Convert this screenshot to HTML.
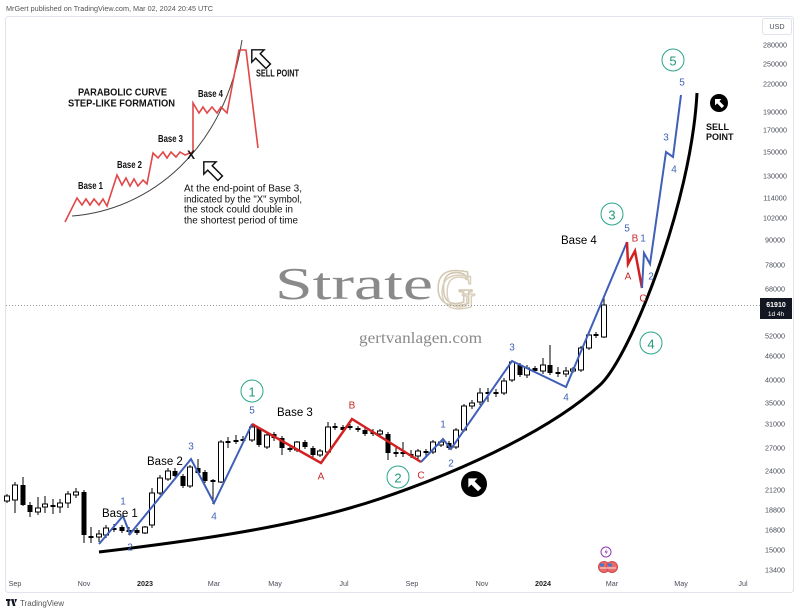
<!DOCTYPE html>
<html><head><meta charset="utf-8"><style>
html,body{margin:0;padding:0;background:#fff;}
svg{display:block;}
text{font-family:"Liberation Sans",sans-serif;}
.sf{font-family:"Liberation Serif",serif;}
.px{font-size:7.2px;fill:#4a4e5a;text-anchor:middle;}
.tx{font-size:7.2px;fill:#4a4e5a;text-anchor:middle;}
.bl{font-size:10px;fill:#3f63b5;text-anchor:middle;dominant-baseline:central;}
.rd{font-size:10px;fill:#c62828;text-anchor:middle;dominant-baseline:central;}
.gn{font-size:13px;fill:#1e9a7a;text-anchor:middle;dominant-baseline:central;}
.bs{font-size:11.5px;fill:#000;}
.h{fill:#fff;stroke:#000;stroke-width:1;}
.b{fill:#000;}
.ib{font-size:10px;font-weight:bold;fill:#111;}
.ip{font-size:10px;fill:#111;}
</style></head><body>
<svg width="800" height="614" viewBox="0 0 800 614" xmlns="http://www.w3.org/2000/svg">
<rect width="800" height="614" fill="#fff"/>
<text x="6" y="11" font-size="7.6" fill="#555" textLength="207" lengthAdjust="spacingAndGlyphs">MrGert published on TradingView.com, Mar 02, 2024 20:45 UTC</text>
<rect x="5.5" y="16.5" width="788" height="576" rx="3" fill="#fff" stroke="#e0e3eb"/>

<!-- Inset -->
<path d="M72,216 C150,210 225,150 242,40" fill="none" stroke="#444" stroke-width="1"/>
<path d="M65,222 L77,198 L82,205 L86,199 L90,205 L94,199 L99,205 L103,199 L107,206 L117,175 L122,185 L126,178 L130,186 L134,179 L138,186 L143,180 L147,184 L153,153 L158,158 L163,152 L167,158 L171,152 L176,157 L180,152 L185,155 L190,153 L193,152 L193,103 L199,113 L203,107 L207,113 L212,107 L217,113 L221,107 L227,113 L239,50 L246,50 L258,148" fill="none" stroke="#e04848" stroke-width="1.6" stroke-linejoin="miter"/>
<text x="78" y="95.5" class="ib" textLength="89" lengthAdjust="spacingAndGlyphs">PARABOLIC CURVE</text>
<text x="68" y="106.5" class="ib" textLength="107" lengthAdjust="spacingAndGlyphs">STEP-LIKE FORMATION</text>
<text x="78" y="189" class="ib" textLength="25" lengthAdjust="spacingAndGlyphs">Base 1</text>
<text x="117" y="168" class="ib" textLength="25" lengthAdjust="spacingAndGlyphs">Base 2</text>
<text x="158" y="142" class="ib" textLength="25" lengthAdjust="spacingAndGlyphs">Base 3</text>
<text x="198" y="97" class="ib" textLength="25" lengthAdjust="spacingAndGlyphs">Base 4</text>
<text x="191" y="159" font-size="12" font-weight="bold" fill="#111" text-anchor="middle">X</text>
<text x="256" y="76.5" class="ib" textLength="43" lengthAdjust="spacingAndGlyphs">SELL POINT</text>
<text x="184" y="191.5" class="ip" textLength="118" lengthAdjust="spacingAndGlyphs">At the end-point of Base 3,</text>
<text x="184" y="202.5" class="ip" textLength="118" lengthAdjust="spacingAndGlyphs">indicated by the "X" symbol,</text>
<text x="184" y="212.5" class="ip" textLength="109" lengthAdjust="spacingAndGlyphs">the stock could double in</text>
<text x="184" y="223.5" class="ip" textLength="114" lengthAdjust="spacingAndGlyphs">the shortest period of time</text>
<g transform="translate(260,58) rotate(-45) scale(1.45)"><polygon points="0,-8 6,-2 2.2,-2 2.2,8 -2.2,8 -2.2,-2 -6,-2" fill="#fff" stroke="#111" stroke-width="1"/></g>
<g transform="translate(212,170) rotate(-45) scale(1.45)"><polygon points="0,-8 6,-2 2.2,-2 2.2,8 -2.2,8 -2.2,-2 -6,-2" fill="#fff" stroke="#111" stroke-width="1"/></g>

<!-- Watermark -->
<text x="275" y="299" class="sf" font-size="46" fill="#8a8a8a" textLength="158" lengthAdjust="spacingAndGlyphs">Strate</text>
<text x="436" y="305" class="sf" font-size="52" fill="none" stroke="#d3c8b2" stroke-width="1.6">G</text>
<text x="440" y="308" class="sf" font-size="50" fill="none" stroke="#d8ceb9" stroke-width="1.4">G</text>
<text x="359" y="343" class="sf" font-size="16" fill="#8a8a8a" textLength="123" lengthAdjust="spacingAndGlyphs">gertvanlagen.com</text>

<!-- last price dotted line -->
<line x1="6" y1="305.5" x2="760" y2="305.5" stroke="#9598a1" stroke-width="1" stroke-dasharray="1,2"/>

<!-- Candles -->
<path d="M7 494V503M15 482V513M23 477V506M30 502V517M38 497V515M45 496V513M53 499V514M60 499V513M68 491V508M76 488V498M84 490V543M91 527V543M99 530V542M106 525V538M114 524V532M122 525V533M129 527V535M137 528V535M145 526V534M152 488V528M160 475V495M168 468V481M175 468V477M183 474V488M190 465V488M198 459V474M205 470V483M213 479V504M221 440V483M228 437V448M236 435V444M243 436V443M252 425V442M259 427V447M267 433V449M274 432V441M282 436V455M290 445V452M297 441V452M305 440V449M313 446V457M320 449V457M328 422V453M335 423V430M343 425V432M350 424V430M358 426V432M365 428V436M373 429V436M380 429V436M388 432V460M396 447V457M403 442V457M411 450V458M418 449V459M426 449V456M433 440V454M441 440V447M449 441V450M456 428V449M464 404V432M472 400V409M480 388V405M488 388V402M496 389V397M504 378V395M512 360V382M520 363V377M527 365V378M535 366V373M543 358V374M550 345V375M558 367V377M566 367V377M573 367V373M581 346V372M589 332V350M596 332V338M604 298V338" stroke="#000" stroke-width="1" fill="none"/>
<g class="h">
<rect x="4.5" y="496" width="5" height="5"/><rect x="12.5" y="485" width="5" height="15"/><rect x="35.5" y="508" width="5" height="4"/><rect x="42.5" y="504" width="5" height="3"/><rect x="57.5" y="503" width="5" height="4"/><rect x="65.5" y="494" width="5" height="9"/><rect x="73.5" y="492" width="5" height="3"/><rect x="96.5" y="534" width="5" height="3"/><rect x="103.5" y="528" width="5" height="7"/><rect x="142.5" y="527" width="5" height="6"/><rect x="149.5" y="493" width="5" height="32"/><rect x="157.5" y="478" width="5" height="15"/><rect x="165.5" y="471" width="5" height="8"/><rect x="187.5" y="467" width="5" height="19"/><rect x="218.5" y="442" width="5" height="40"/><rect x="249.5" y="427" width="5" height="13"/><rect x="264.5" y="435" width="5" height="12"/><rect x="294.5" y="442" width="5" height="8"/><rect x="317.5" y="451" width="5" height="4"/><rect x="325.5" y="427" width="5" height="25"/><rect x="377.5" y="431" width="5" height="3"/><rect x="415.5" y="451" width="5" height="5"/><rect x="430.5" y="442" width="5" height="10"/><rect x="438.5" y="442" width="5" height="3"/><rect x="453.5" y="430" width="5" height="17"/><rect x="461.5" y="406" width="5" height="24"/><rect x="469.5" y="403" width="5" height="3"/><rect x="477.5" y="393" width="5" height="9"/><rect x="501.5" y="381" width="5" height="12"/><rect x="509.5" y="362" width="5" height="18"/><rect x="524.5" y="368" width="5" height="7"/><rect x="540.5" y="365" width="5" height="6"/><rect x="563.5" y="371" width="5" height="3"/><rect x="570.5" y="369" width="5" height="2"/><rect x="578.5" y="348" width="5" height="22"/><rect x="586.5" y="335" width="5" height="13"/><rect x="601.5" y="305" width="5" height="32"/>
</g>
<g class="b">
<rect x="20.5" y="485" width="5" height="20"/><rect x="27.5" y="505" width="5" height="7"/><rect x="50.5" y="505" width="5" height="2"/><rect x="81.5" y="492" width="5" height="43"/><rect x="88.5" y="536" width="5" height="2"/><rect x="111.5" y="528" width="5" height="2"/><rect x="119.5" y="527" width="5" height="4"/><rect x="126.5" y="530" width="5" height="2"/><rect x="134.5" y="530" width="5" height="3"/><rect x="172.5" y="471" width="5" height="5"/><rect x="180.5" y="476" width="5" height="10"/><rect x="195.5" y="468" width="5" height="5"/><rect x="202.5" y="472" width="5" height="9"/><rect x="210.5" y="480" width="5" height="2"/><rect x="225.5" y="441" width="5" height="2"/><rect x="233.5" y="440" width="5" height="2"/><rect x="240.5" y="439" width="5" height="2"/><rect x="256.5" y="428" width="5" height="17"/><rect x="271.5" y="434" width="5" height="4"/><rect x="279.5" y="438" width="5" height="10"/><rect x="287.5" y="448" width="5" height="2"/><rect x="302.5" y="442" width="5" height="5"/><rect x="310.5" y="448" width="5" height="7"/><rect x="332.5" y="426" width="5" height="2"/><rect x="340.5" y="427" width="5" height="3"/><rect x="347.5" y="426" width="5" height="2"/><rect x="355.5" y="428" width="5" height="2"/><rect x="362.5" y="430" width="5" height="4"/><rect x="370.5" y="432" width="5" height="2"/><rect x="385.5" y="434" width="5" height="19"/><rect x="393.5" y="452" width="5" height="2"/><rect x="400.5" y="452" width="5" height="2"/><rect x="408.5" y="454" width="5" height="2"/><rect x="423.5" y="451" width="5" height="2"/><rect x="446.5" y="443" width="5" height="5"/><rect x="485.5" y="392" width="5" height="2"/><rect x="493.5" y="392" width="5" height="2"/><rect x="517.5" y="365" width="5" height="10"/><rect x="532.5" y="368" width="5" height="3"/><rect x="547.5" y="365" width="5" height="8"/><rect x="555.5" y="372" width="5" height="2"/><rect x="593.5" y="334" width="5" height="2"/>
</g>

<!-- Parabolic curve -->
<path d="M99,552 C200,540 280,528 350,508 C420,488 540,440 600,385 C630,357 691,205 697,93" fill="none" stroke="#000" stroke-width="3"/>

<!-- Wave lines -->
<polyline points="99,544 123,516 130,534 191,459 214,503 252,424" fill="none" stroke="#3f5fb8" stroke-width="2" stroke-linejoin="miter"/>
<polyline points="252,424 321,463 352,419 421,462" fill="none" stroke="#d32020" stroke-width="2.5"/>
<polyline points="421,462 443,439 451,449 512,361 566,387 627,242" fill="none" stroke="#3f5fb8" stroke-width="2"/>
<polyline points="627,242 628,264 635,251 642,288" fill="none" stroke="#d32020" stroke-width="2.5"/>
<polyline points="642,288 644,253 650,264 666,152 673,157 681,95" fill="none" stroke="#3f5fb8" stroke-width="2"/>

<!-- Labels -->
<text x="102" y="517" class="bs">Base 1</text>
<text x="147" y="465" class="bs">Base 2</text>
<text x="277" y="416" class="bs">Base 3</text>
<text x="561" y="244" class="bs">Base 4</text>
<text x="123" y="502" class="bl">1</text>
<text x="130" y="548" class="bl">2</text>
<text x="191" y="447" class="bl">3</text>
<text x="214" y="517" class="bl">4</text>
<text x="252" y="411" class="bl">5</text>
<text x="352" y="406" class="rd">B</text>
<text x="321" y="477" class="rd">A</text>
<text x="421" y="476" class="rd">C</text>
<text x="443" y="425" class="bl">1</text>
<text x="451" y="464" class="bl">2</text>
<text x="512" y="348" class="bl">3</text>
<text x="566" y="398" class="bl">4</text>
<text x="627" y="229" class="bl">5</text>
<text x="635" y="239" class="rd">B</text>
<text x="643" y="239" class="bl">1</text>
<text x="628" y="277" class="rd">A</text>
<text x="651" y="277" class="bl">2</text>
<text x="643" y="299" class="rd">C</text>
<text x="666" y="138" class="bl">3</text>
<text x="674" y="170" class="bl">4</text>
<text x="682" y="83" class="bl">5</text>

<g fill="#fff" stroke="#2aa58a" stroke-width="1">
<circle cx="252" cy="391" r="11"/><circle cx="398" cy="477" r="11"/><circle cx="612" cy="214" r="11"/><circle cx="651" cy="343" r="11"/><circle cx="673" cy="60" r="11"/>
</g>
<text x="252" y="392" class="gn">1</text>
<text x="398" y="478" class="gn">2</text>
<text x="612" y="215" class="gn">3</text>
<text x="651" y="344" class="gn">4</text>
<text x="673" y="61" class="gn">5</text>

<text x="706" y="130" font-size="9" font-weight="bold" fill="#111">SELL</text>
<text x="706" y="140" font-size="9" font-weight="bold" fill="#111">POINT</text>

<!-- black arrow circles -->
<circle cx="474" cy="484" r="13" fill="#000"/>
<g transform="translate(474,484) rotate(-45)"><polygon points="0,-8 6.5,-1.5 2.3,-1.5 2.3,8 -2.3,8 -2.3,-1.5 -6.5,-1.5" fill="#fff"/></g>
<circle cx="719" cy="103" r="9" fill="#000"/>
<g transform="translate(719,103) rotate(-45) scale(0.7)"><polygon points="0,-8 6.5,-1.5 2.3,-1.5 2.3,8 -2.3,8 -2.3,-1.5 -6.5,-1.5" fill="#fff"/></g>

<!-- event icons -->
<circle cx="606" cy="552" r="5" fill="#fff" stroke="#8e3bb5" stroke-width="1"/>
<path d="M607,548.5 L604.5,552.5 L606.5,552.5 L605,555.5 L608,551.5 L606,551.5 Z" fill="#8e3bb5"/>
<circle cx="604" cy="567" r="5.5" fill="#e86a6a" stroke="#d04a4a" stroke-width="1"/>
<circle cx="612" cy="567" r="5.5" fill="#e86a6a" stroke="#d04a4a" stroke-width="1"/>
<rect x="600" y="563.5" width="4" height="3" fill="#4a78c9"/>
<rect x="608" y="563.5" width="4" height="3" fill="#4a78c9"/>
<line x1="600" y1="568" x2="608" y2="568" stroke="#fff" stroke-width="0.8"/>
<line x1="608" y1="568" x2="616" y2="568" stroke="#fff" stroke-width="0.8"/>

<!-- Price axis -->
<rect x="762.5" y="18.5" width="29" height="16" rx="2" fill="#fff" stroke="#e0e3eb"/>
<text x="777" y="29" class="px">USD</text>
<g class="px">
<text x="775" y="47.5">280000</text>
<text x="775" y="66.5">250000</text>
<text x="775" y="86.5">220000</text>
<text x="775" y="114.5">190000</text>
<text x="775" y="132.5">170000</text>
<text x="775" y="154.5">150000</text>
<text x="775" y="178.5">130000</text>
<text x="775" y="200.5">114000</text>
<text x="775" y="220.5">102000</text>
<text x="775" y="242.5">90000</text>
<text x="775" y="267.5">78000</text>
<text x="775" y="291.5">68000</text>
<text x="775" y="338.5">52000</text>
<text x="775" y="358.5">46000</text>
<text x="775" y="382.5">40000</text>
<text x="775" y="405.5">35000</text>
<text x="775" y="426.5">31000</text>
<text x="775" y="450.5">27000</text>
<text x="775" y="473.5">24000</text>
<text x="775" y="492.5">21200</text>
<text x="775" y="512.5">18800</text>
<text x="775" y="532.5">16800</text>
<text x="775" y="552.5">15000</text>
<text x="775" y="572.5">13400</text>
</g>
<rect x="760" y="298" width="32" height="21" fill="#131722"/>
<text x="776" y="307" font-size="7" font-weight="bold" fill="#fff" text-anchor="middle">61910</text>
<text x="776" y="316" font-size="6.5" fill="#fff" text-anchor="middle">1d 4h</text>

<!-- Time axis -->
<g class="tx">
<text x="15" y="586">Sep</text>
<text x="84" y="586">Nov</text>
<text x="145" y="586" font-weight="bold" fill="#222">2023</text>
<text x="214" y="586">Mar</text>
<text x="275" y="586">May</text>
<text x="344" y="586">Jul</text>
<text x="412" y="586">Sep</text>
<text x="482" y="586">Nov</text>
<text x="543" y="586" font-weight="bold" fill="#222">2024</text>
<text x="612" y="586">Mar</text>
<text x="681" y="586">May</text>
<text x="743" y="586">Jul</text>
</g>

<!-- footer -->
<g fill="#131722">
<rect x="6" y="599" width="4.5" height="2"/><rect x="7.5" y="599" width="2" height="7"/>
<polygon points="11,599 13.5,599 15.5,606 13,606"/><polygon points="14.5,599 17,599 15.5,603"/>
</g>
<text x="20" y="606" font-size="8" fill="#555">TradingView</text>
</svg>
</body></html>
